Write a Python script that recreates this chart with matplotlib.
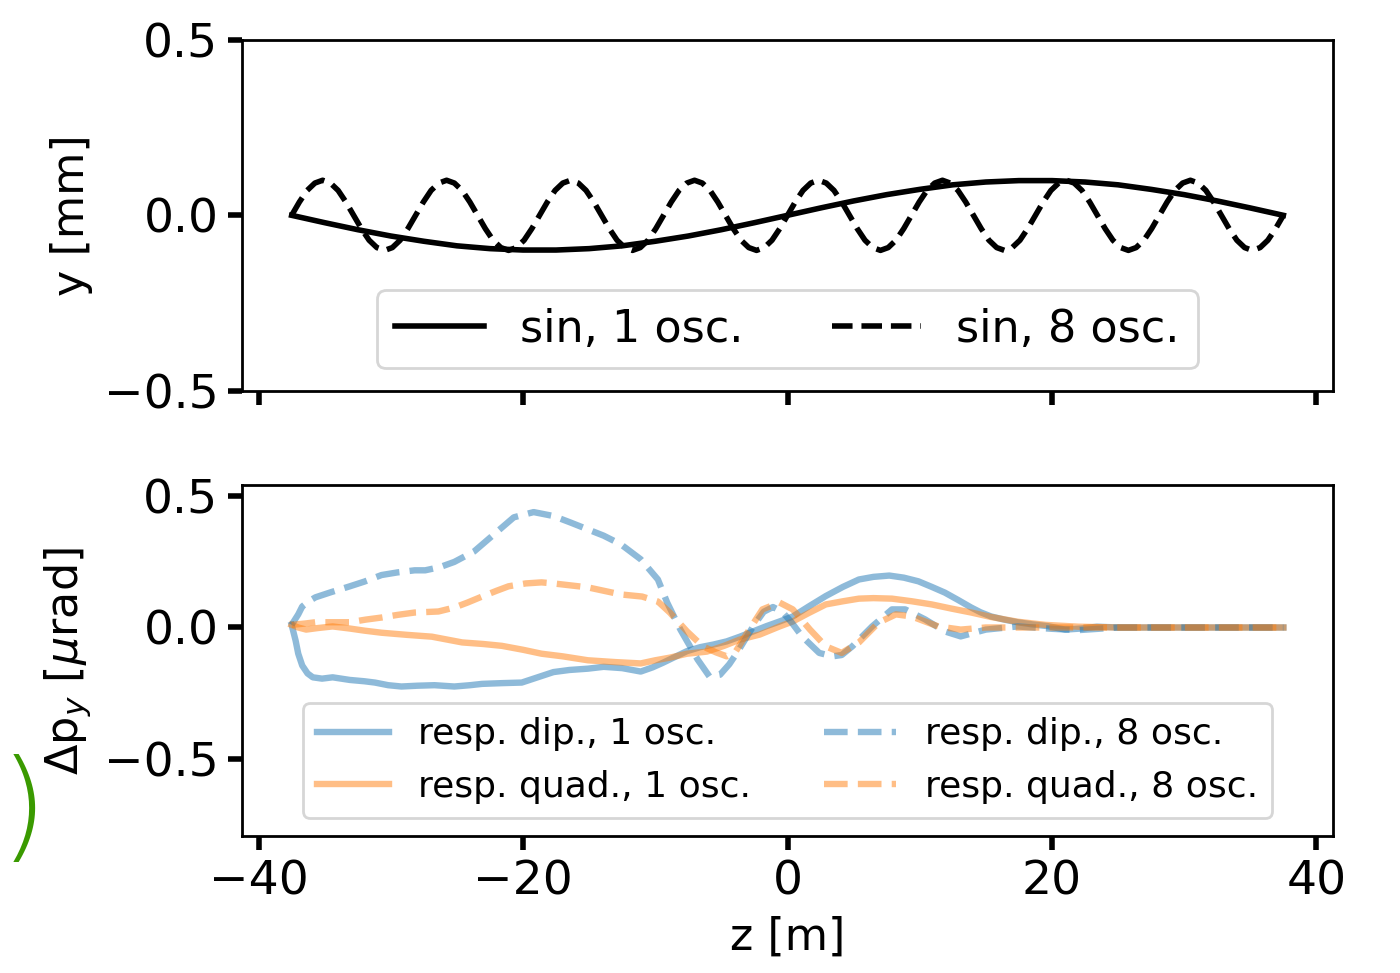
import numpy as np
import matplotlib
matplotlib.use("Agg")
import matplotlib.pyplot as plt

# ---- top panel: orbit y [mm] ----
z_sin1 = [-37.5, -35.0, -32.5, -30.0, -27.5, -25.0, -22.5, -20.0, -17.5, -15.0,
          -12.5, -10.0, -7.5, -5.0, -2.5, 0.0, 2.5, 5.0, 7.5, 10.0,
          12.5, 15.0, 17.5, 20.0, 22.5, 25.0, 27.5, 30.0, 32.5, 35.0, 37.5]
y_sin1 = [0.0, -0.021, -0.041, -0.059, -0.074, -0.087, -0.095, -0.099, -0.099, -0.095,
          -0.087, -0.074, -0.059, -0.041, -0.021, 0.0, 0.021, 0.041, 0.059, 0.074,
          0.087, 0.095, 0.099, 0.099, 0.095, 0.087, 0.074, 0.059, 0.041, 0.021, 0.0]

z_sin8 = np.linspace(-37.5, 37.5, 129)
y_sin8 = [
    0.0, 0.038, 0.071, 0.092, 0.1, 0.092, 0.071, 0.038, 0.0, -0.038, -0.071, -0.092, -0.1, -0.092, -0.071, -0.038,
    0.0, 0.038, 0.071, 0.092, 0.1, 0.092, 0.071, 0.038, 0.0, -0.038, -0.071, -0.092, -0.1, -0.092, -0.071, -0.038,
    0.0, 0.038, 0.071, 0.092, 0.1, 0.092, 0.071, 0.038, 0.0, -0.038, -0.071, -0.092, -0.1, -0.092, -0.071, -0.038,
    0.0, 0.038, 0.071, 0.092, 0.1, 0.092, 0.071, 0.038, 0.0, -0.038, -0.071, -0.092, -0.1, -0.092, -0.071, -0.038,
    0.0, 0.038, 0.071, 0.092, 0.1, 0.092, 0.071, 0.038, 0.0, -0.038, -0.071, -0.092, -0.1, -0.092, -0.071, -0.038,
    0.0, 0.038, 0.071, 0.092, 0.1, 0.092, 0.071, 0.038, 0.0, -0.038, -0.071, -0.092, -0.1, -0.092, -0.071, -0.038,
    0.0, 0.038, 0.071, 0.092, 0.1, 0.092, 0.071, 0.038, 0.0, -0.038, -0.071, -0.092, -0.1, -0.092, -0.071, -0.038,
    0.0, 0.038, 0.071, 0.092, 0.1, 0.092, 0.071, 0.038, 0.0, -0.038, -0.071, -0.092, -0.1, -0.092, -0.071, -0.038,
    0.0]

# ---- bottom panel: kick response [urad] ----
z_dip1 = [-37.5, -37.2, -37.0, -36.7, -36.3, -35.9, -35.2, -34.4, -33.1, -32.0,
          -31.2, -30.2, -29.2, -28.0, -26.7, -25.2, -24.0, -23.1, -21.5, -20.1,
          -18.9, -17.7, -16.5, -15.1, -13.9, -12.5, -11.1, -10.2, -9.4, -8.5,
          -7.6, -6.6, -5.6, -4.6, -3.6, -2.6, -1.6, -0.6, 0.4, 1.6,
          2.9, 4.2, 5.4, 6.5, 7.7, 8.8, 9.9, 10.9, 11.9, 12.9,
          13.9, 14.6, 15.4, 16.4, 17.4, 18.5, 19.7, 21.0, 22.2, 23.4,
          25.0, 30.0, 37.5]
v_dip1 = [0.01, -0.05, -0.10, -0.145, -0.175, -0.19, -0.195, -0.19, -0.20, -0.205,
          -0.21, -0.22, -0.225, -0.222, -0.22, -0.225, -0.22, -0.215, -0.212, -0.21,
          -0.19, -0.17, -0.162, -0.157, -0.15, -0.155, -0.168, -0.152, -0.134, -0.112,
          -0.09, -0.075, -0.065, -0.053, -0.035, -0.015, 0.005, 0.023, 0.042, 0.08,
          0.12, 0.155, 0.183, 0.193, 0.198, 0.19, 0.176, 0.155, 0.133, 0.105,
          0.076, 0.058, 0.042, 0.03, 0.02, 0.012, 0.005, -0.008, -0.004, 0.003,
          0.0, 0.0, 0.0]

z_quad1 = [-37.5, -37.0, -36.4, -35.5, -34.4, -33.1, -32.0, -30.7, -28.8, -26.9,
           -24.6, -23.0, -21.6, -20.0, -18.6, -17.0, -15.1, -13.0, -11.1, -10.0,
           -8.9, -7.6, -6.1, -4.8, -3.6, -2.1, -0.6, 0.4, 1.6, 2.9,
           4.2, 5.4, 6.5, 7.9, 9.4, 10.9, 12.4, 13.9, 15.4, 17.4,
           19.5, 22.0, 25.0, 30.0, 37.5]
v_quad1 = [0.01, 0.0, -0.008, -0.002, 0.004, -0.004, -0.012, -0.02, -0.028, -0.035,
           -0.057, -0.063, -0.07, -0.085, -0.1, -0.11, -0.125, -0.132, -0.137, -0.125,
           -0.115, -0.1, -0.092, -0.07, -0.046, -0.027, 0.004, 0.023, 0.055, 0.088,
           0.1, 0.11, 0.112, 0.11, 0.1, 0.088, 0.072, 0.057, 0.04, 0.022,
           0.01, 0.003, 0.0, 0.0, 0.0]

z_dip8 = [-37.5, -37.0, -36.7, -36.2, -35.7, -34.5, -33.1, -32.0, -30.7, -29.5,
          -28.2, -27.4, -26.3, -25.2, -23.7, -22.2, -20.7, -19.2, -17.7, -16.4,
          -15.1, -13.9, -12.6, -11.1, -9.8, -9.1, -8.1, -6.8, -5.9, -5.1,
          -4.4, -3.8, -2.6, -1.8, -1.1, -0.4, 0.3, 1.1, 2.4, 3.4,
          4.1, 4.9, 6.4, 7.9, 8.9, 10.4, 11.9, 13.1, 15.0, 17.4,
          20.0, 22.0, 25.0, 30.0, 37.5]
v_dip8 = [0.01, 0.05, 0.08, 0.1, 0.115, 0.135, 0.157, 0.175, 0.2, 0.21,
          0.218, 0.218, 0.23, 0.25, 0.29, 0.355, 0.42, 0.44, 0.425, 0.4,
          0.374, 0.35, 0.317, 0.26, 0.183, 0.095, -0.008, -0.122, -0.187, -0.18,
          -0.14, -0.095, 0.004, 0.06, 0.078, 0.06, 0.02, -0.034, -0.097, -0.11,
          -0.105, -0.072, 0.004, 0.069, 0.069, 0.031, -0.015, -0.034, -0.008, 0.004,
          -0.005, -0.01, 0.0, 0.0, 0.0]

z_quad8 = [-37.5, -36.5, -35.7, -34.4, -33.1, -31.9, -30.7, -29.5, -28.2, -26.4,
           -25.2, -24.2, -23.1, -22.0, -21.1, -19.8, -18.6, -17.7, -15.1, -12.6,
           -11.0, -9.8, -8.9, -7.6, -6.4, -5.4, -4.6, -3.9, -3.1, -1.9,
           -0.6, 0.4, 1.7, 2.9, 4.1, 5.4, 6.9, 8.2, 9.4, 11.4,
           13.1, 15.0, 17.0, 20.0, 25.0, 30.0, 37.5]
v_quad8 = [0.01, 0.015, 0.02, 0.02, 0.02, 0.03, 0.038, 0.048, 0.057, 0.061,
           0.076, 0.095, 0.118, 0.14, 0.157, 0.168, 0.172, 0.168, 0.153, 0.126,
           0.118, 0.099, 0.057, -0.015, -0.072, -0.095, -0.11, -0.09, -0.025, 0.069,
           0.095, 0.069, -0.008, -0.072, -0.097, -0.057, 0.019, 0.05, 0.042, 0.004,
           -0.008, 0.0, 0.0, 0.0, 0.0, 0.0, 0.0]

labels_top = ["sin, 1 osc.", "sin, 8 osc."]
labels_bot = ["resp. dip., 1 osc.", "resp. dip., 8 osc.",
              "resp. quad., 1 osc.", "resp. quad., 8 osc."]

plt.rcParams["font.family"] = ["DejaVu Sans"]
plt.rcParams["axes.linewidth"] = 1.0

fig, (ax1, ax2) = plt.subplots(2, 1, sharex=True, figsize=(7.0, 4.865), dpi=200)
fig.subplots_adjust(left=0.1729, right=0.9521, top=0.9589, bottom=0.1408, hspace=0.27)

lw_k = 2.0
ax1.plot(z_sin1, y_sin1, color="black", lw=lw_k, label=labels_top[0])
ax1.plot(z_sin8, y_sin8, color="black", lw=lw_k, ls="--", label=labels_top[1])
ax1.set_ylim(-0.5, 0.5)
ax1.set_ylabel("y [mm]", fontsize=16)
ax1.legend(loc="lower center", ncol=2, fontsize=16)

lw_c = 2.3
ax2.plot(z_dip1, v_dip1, color="C0", alpha=0.5, lw=lw_c, label=labels_bot[0])
ax2.plot(z_quad1, v_quad1, color="C1", alpha=0.5, lw=lw_c, label=labels_bot[2])
ax2.plot(z_dip8, v_dip8, color="C0", alpha=0.5, lw=lw_c, ls="--", label=labels_bot[1])
ax2.plot(z_quad8, v_quad8, color="C1", alpha=0.5, lw=lw_c, ls="--", label=labels_bot[3])
ax2.set_ylim(-0.795, 0.542)
ax2.set_xticks([-40, -20, 0, 20, 40])
ax2.set_ylabel(r"$\Delta$p$_y$ [$\mu$rad]", fontsize=16)
ax2.set_xlabel("z [m]", fontsize=16)
ax2.legend(loc="lower center", ncol=2, fontsize=13.0)

for ax in (ax1, ax2):
    ax.tick_params(axis="both", labelsize=17, length=5, width=2)
    ax.set_yticks([-0.5, 0.0, 0.5])

fig.text(0.0, 0.131, ")", color="#3a9a00", fontsize=44, fontweight="light")

fig.savefig("out.png", dpi=200)
